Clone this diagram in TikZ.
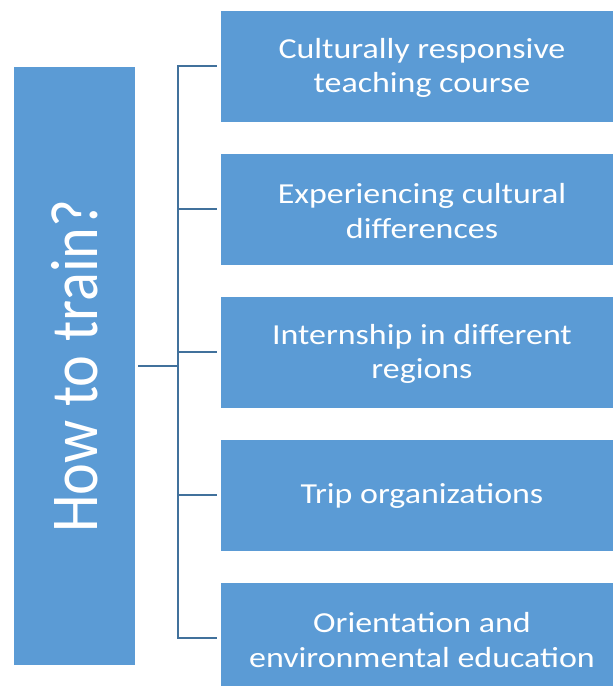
\documentclass[tikz,border=0pt]{standalone}
\usepackage{fontspec}
\newfontfamily\boxfont{Carlito}[FakeStretch=1.17]
\newfontfamily\bigfont{Carlito}[FakeStretch=0.9]
\definecolor{boxblue}{HTML}{5B9BD5}
\definecolor{linkblue}{HTML}{41719C}
\begin{document}
\begin{tikzpicture}[x=1pt,y=-1pt,
  blueblock/.style={rectangle, fill=boxblue, draw=white, line width=0.8pt, text=white, inner sep=0pt},
  itembox/.style={blueblock, minimum width=404pt, minimum height=112pt, align=center,
     font=\boxfont\fontsize{29}{34.4}\selectfont},
  itemtext/.style={text=white, inner sep=0pt, align=center, font=\boxfont\fontsize{29}{34.4}\selectfont},
  link/.style={draw=linkblue, line width=2pt, line join=miter}]
\clip (0,0) rectangle (613,686);
\fill[white] (0,0) rectangle (613,686);
\node[blueblock, minimum width=122pt, minimum height=599pt] (L) at (74.5,365.5) {};
\node[text=white, rotate=90, inner sep=0pt, font=\bigfont\fontsize{67}{70}\selectfont] (Lt) at (74.5,366) {How to train?};
\node[itembox] (R1) at (422,66) {};
\node[itembox] (R2) at (422,209) {};
\node[itembox] (R3) at (422,352) {};
\node[itembox] (R4) at (422,495) {};
\node[itembox] (R5) at (422,638) {};
\node[itemtext] (T1) at ([yshift=-2pt]R1.center) {Culturally responsive\\teaching course};
\node[itemtext] (T2) at ([yshift=-2pt]R2.center) {Experiencing cultural\\differences};
\node[itemtext] (T3) at ([yshift=-2pt]R3.center) {Internship in different\\regions};
\node[itemtext] (T4) at ([yshift=-1pt]R4.center) {Trip organizations};
\node[itemtext] (T5) at ([yshift=-2pt]R5.center) {Orientation and\\environmental education};
\coordinate (T) at (177.5,0);
\draw[link] ([xshift=-3pt]R1.west) -- (R1.west -| T) -- (R5.west -| T) -- ([xshift=-3pt]R5.west);
\draw[link] ([xshift=-3pt]R2.west) -- (R2.west -| T);
\draw[link] ([xshift=-3pt]R3.west) -- (R3.west -| T);
\draw[link] ([xshift=-3pt]R4.west) -- (R4.west -| T);
\draw[link] ([xshift=2.5pt]L.east) -- (L.east -| T);
\end{tikzpicture}
\end{document}
